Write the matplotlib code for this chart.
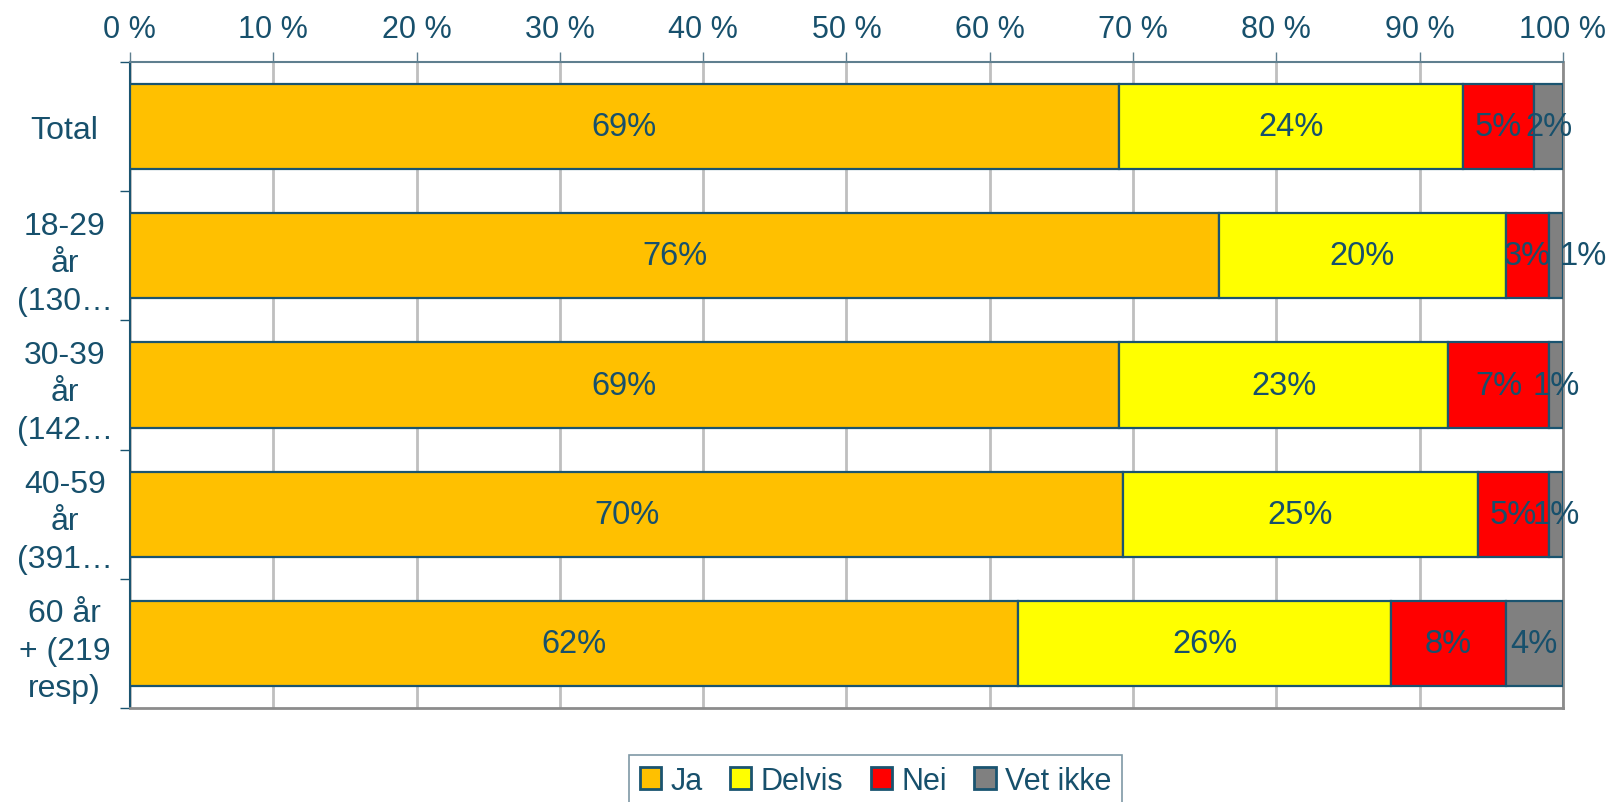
import numpy as np
from matplotlib import pyplot as plt

categories = ['Total', '18-29\når\n(130…', '30-39\når\n(142…', '40-59\når\n(391…', '60 år\n+ (219\nresp)']
series = ['Ja', 'Delvis', 'Nei', 'Vet ikke']
ja = [69, 76, 69, 70, 62]
delvis = [24, 20, 23, 25, 26]
nei = [5, 3, 7, 5, 8]
vet_ikke = [2, 1, 1, 1, 4]
colors = ['#FFC000', '#FFFF00', '#FF0000', '#808080']

txt = '#17506C'
edge = '#1A5470'
plt.rcParams['font.family'] = ['Liberation Sans', 'DejaVu Sans']

fig = plt.figure(figsize=(16.16, 8.03), dpi=100)
ax = fig.add_axes([0.0804, 0.1171, 0.8868, 0.8044])

raw = np.array([ja, delvis, nei, vet_ikke], dtype=float)
# 100 % stacked: each row normalised to its sum, like the spreadsheet does
share = raw / raw.sum(axis=0) * 100
y = np.arange(len(categories))
left = np.zeros(len(categories))
for i, name in enumerate(series):
    bars = ax.barh(y, share[i], left=left, height=0.66, color=colors[i],
                   edgecolor=edge, linewidth=1.6, label=name, zorder=3)
    texts = ax.bar_label(bars, labels=[f'{int(v)}%' for v in raw[i]], label_type='center',
                         fontsize=23.5, color=txt, zorder=4)
    if name == 'Vet ikke':
        # the spreadsheet pushed this one out of the way of "3%"
        texts[1].xyann = (20, 0)
    left += share[i]

ax.set_xlim(0, 100)
ax.set_ylim(len(categories) - 0.5, -0.5)
ax.xaxis.tick_top()
ax.set_xticks(np.arange(0, 101, 10))
ax.set_xticklabels([f'{v} %' for v in range(0, 101, 10)])
ax.tick_params(axis='x', length=7, width=1, color='#5F7F8F', labelsize=22,
               labelcolor=txt, pad=6)
ax.grid(axis='x', color='#BFBFBF', linewidth=2, zorder=0)

ax.set_yticks(y)
ax.set_yticklabels(categories)
ax.set_yticks(np.arange(-0.5, len(categories)), minor=True)
ax.tick_params(axis='y', which='major', length=0, labelsize=23, labelcolor=txt, pad=47)
ax.tick_params(axis='y', which='minor', length=7, width=1, color=edge)
for lab in ax.get_yticklabels():
    lab.set_horizontalalignment('center')
    lab.set_multialignment('center')
    lab.set_linespacing(1.33)

ax.spines['left'].set_color(edge)
ax.spines['left'].set_linewidth(1.5)
ax.spines['top'].set_color('#5F7F8F')
ax.spines['top'].set_linewidth(1.5)
ax.spines['right'].set_color('#8C8C8C')
ax.spines['right'].set_linewidth(2)
ax.spines['bottom'].set_color('#8C8C8C')
ax.spines['bottom'].set_linewidth(2)

leg = ax.legend(loc='upper center', bbox_to_anchor=(0.5417, 0.0585),
                bbox_transform=fig.transFigure, borderaxespad=0, ncol=4, frameon=True,
                fancybox=False, fontsize=22, handlelength=0.7, handleheight=0.7,
                handletextpad=0.3, columnspacing=0.9, borderpad=0.35, labelcolor=txt)
leg.get_frame().set_edgecolor('#5F7F8F')
leg.get_frame().set_linewidth(1.2)
for h in leg.legend_handles:
    h.set_edgecolor(edge)
    h.set_linewidth(2)

fig.savefig('out.png', dpi=100)
